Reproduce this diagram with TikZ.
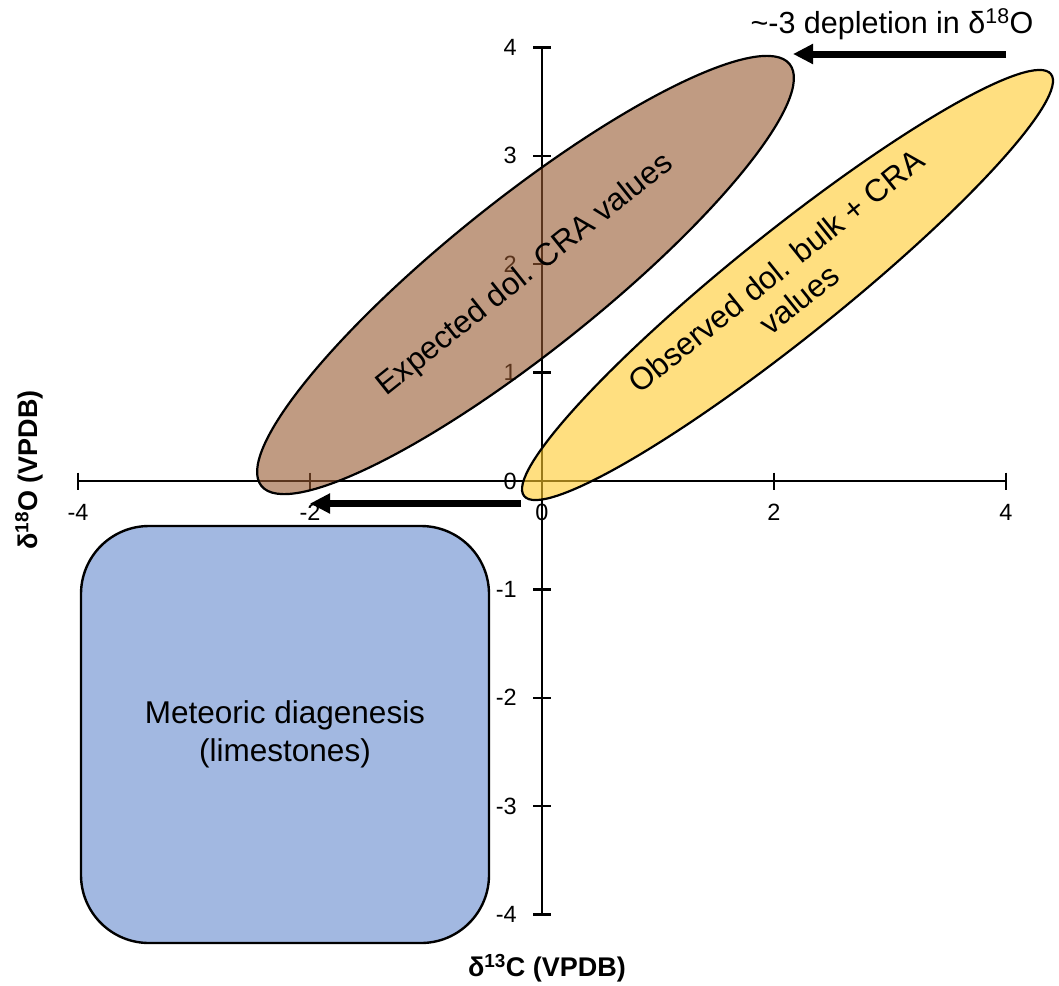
\documentclass[tikz,border=0pt]{standalone}
\usepackage{fontspec}
\setmainfont{Liberation Sans}
\usetikzlibrary{shapes.geometric,arrows.meta}
\definecolor{brownfill}{RGB}{150,88,47}
\definecolor{yellowfill}{RGB}{255,202,43}
\definecolor{bluefill}{RGB}{162,184,225}
\begin{document}
\begin{tikzpicture}[x=1pt,y=1pt,
  axisline/.style={line width=2.4pt, black},
  ticklabel/.style={font=\fontsize{23.5}{27}\selectfont, inner sep=0pt},
  blob/.style={ellipse, draw=black, line width=2.2pt, fill opacity=0.6, text opacity=1, draw opacity=1, inner sep=0pt, align=center, font=\fontsize{31.5}{36}\selectfont},
  bigarrow/.style={-{Triangle[length=20pt,width=19pt]}, line width=7pt},
  axislabel/.style={font=\bfseries\fontsize{27}{30}\selectfont, inner sep=0pt}]
\useasboundingbox (0,0) rectangle (1059,-985);
% axes
\draw[axisline] (78,-481) -- (1006,-481);
\foreach \x in {78,310,542,774,1006} \draw[axisline] (\x,-472.5) -- (\x,-489.5);
\draw[axisline] (542,-47.5) -- (542,-914.5);
\foreach \i in {-4,...,4} \draw[axisline] (533,{-481+108.375*\i}) -- (551,{-481+108.375*\i});
% tick labels
\foreach \i in {-4,...,4} \node[ticklabel, anchor=east] (yl\i) at (517,{-481+108.375*\i}) {\i};
\foreach \v/\x in {-4/78,-2/310,0/542,2/774,4/1006} \node[ticklabel] (xl\x) at (\x,-512) {\v};
% regions
\node[blob, fill=brownfill, minimum width=676pt, minimum height=152pt, rotate=38.6] (expected) at (525.5,-275) {Expected dol. CRA values};
\node[blob, fill=yellowfill, minimum width=675pt, minimum height=106pt, rotate=38.7] (observed) at (787.5,-285) {Observed dol. bulk + CRA\\values};
\node[draw=black, line width=2.4pt, fill=bluefill, rounded corners=68pt, minimum width=408pt, minimum height=417pt, align=center, font=\fontsize{31.5}{38}\selectfont] (meteoric) at (285,-734.5) {Meteoric diagenesis\\(limestones)};
% arrows
\coordinate (topstart) at (1006,-54);
\coordinate (topend) at (793,-54);
\draw[bigarrow] (topstart) -- (topend);
\coordinate (botstart) at (521,-503.5);
\coordinate (botend) at (310,-503.5);
\draw[bigarrow, line width=6.5pt] (botstart) -- (botend);
% texts
\node[font=\fontsize{30.5}{34}\selectfont, anchor=base, inner sep=0pt] (title) at (892,-33) {\textasciitilde-3 depletion in δ\textsuperscript{18}O};
\node[axislabel, rotate=90] (ylabel) at (29,-470) {δ\textsuperscript{18}O (VPDB)};
\node[axislabel] (xlabel) at (547,-968) {δ\textsuperscript{13}C (VPDB)};
\end{tikzpicture}
\end{document}
